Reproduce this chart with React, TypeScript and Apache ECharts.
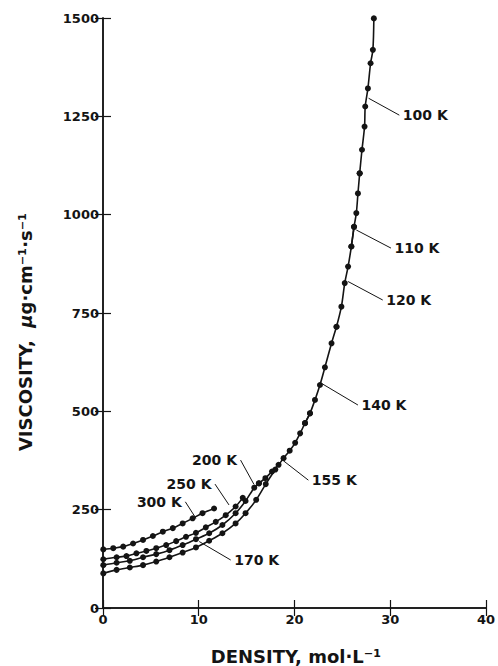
import React, { useEffect, useRef } from "react";
import * as echarts from "echarts";

// Axis ranges
const X_MIN = 0;
const X_MAX = 40;
const X_STEP = 10;
const Y_MIN = 0;
const Y_MAX = 1500;
const Y_STEP = 250;

// Isotherms (density mol/L, viscosity µg·cm⁻¹·s⁻¹)
const T300_D = [0.03, 1.07, 2.11, 3.14, 4.18, 5.21, 6.25, 7.29, 8.32, 9.36, 10.39, 11.6];
const T300_V = [149, 152, 156, 164, 173, 183, 194, 203, 215, 228, 241, 253];

const T250_D = [0.03, 1.42, 2.45, 3.49, 4.53, 5.56, 6.6, 7.64, 8.67, 9.71, 10.74, 11.78, 12.82, 13.85, 14.6];
const T250_V = [124, 129, 132, 139, 145, 152, 160, 170, 181, 191, 205, 219, 236, 258, 280];

const T200_D = [0.03, 1.42, 2.8, 4.18, 5.56, 6.94, 8.32, 9.71, 11.09, 12.47, 13.85, 14.89, 15.8, 16.3];
const T200_V = [109, 115, 120, 129, 137, 147, 160, 175, 190, 211, 241, 272, 306, 317];

const T170_D = [0.03, 1.42, 2.8, 4.18, 5.56, 6.94, 8.32, 9.71, 11.09, 12.47, 13.85, 14.89, 16.0, 17.0, 18.0];
const T170_V = [88, 97, 103, 109, 118, 129, 141, 154, 171, 190, 215, 241, 275, 315, 352];

const T155_D = [16.27, 16.96, 17.65, 18.34, 18.86, 19.5, 20.07, 20.59, 21.1, 21.62];
const T155_V = [317, 330, 347, 364, 381, 400, 420, 444, 470, 495];

const T140_D = [21.1, 21.62, 22.14, 22.66, 23.18, 23.87, 24.39];
const T140_V = [470, 495, 529, 567, 612, 673, 715];

const T120_D = [24.39, 24.9, 25.25, 25.6, 25.94, 26.22];
const T120_V = [715, 766, 826, 868, 919, 969];

const T110_D = [25.94, 26.22, 26.46, 26.63, 26.81];
const T110_V = [919, 969, 1004, 1054, 1105];

const T100_D = [26.81, 27.05, 27.32, 27.39, 27.67, 27.95, 28.19, 28.29];
const T100_V = [1105, 1165, 1224, 1275, 1321, 1385, 1419, 1499];

// Annotation leaders: point on the curve, point at the label
const LEADER_NAMES = ["100 K", "110 K", "120 K", "140 K", "155 K", "170 K", "200 K", "250 K", "300 K"];
const LEADER_CURVE_D = [27.74, 26.46, 25.6, 22.83, 18.86, 10.05, 15.75, 13.16, 9.71];
const LEADER_CURVE_V = [1296, 961, 830, 571, 374, 169, 315, 262, 228];
const LEADER_TEXT_D = [30.95, 30.08, 29.22, 26.63, 21.45, 13.34, 14.37, 11.7, 8.6];
const LEADER_TEXT_V = [1253, 915, 783, 516, 325, 122, 376, 315, 270];

const X_TITLE = "DENSITY, mol·L⁻¹";
const Y_TITLE_A = "VISCOSITY,  ";
const Y_TITLE_MU = "μ";
const Y_TITLE_B = "g·cm⁻¹·s⁻¹";

export default function App() {
  const ref = useRef<HTMLDivElement>(null);

  useEffect(() => {
    if (!ref.current) return;
    const chart = echarts.init(ref.current, null, { renderer: "svg" });
    const INK = "#141414";
    const FONT = "DejaVu Sans";

    const zip = (d: number[], v: number[]) => d.map((x, i) => [x, v[i]]);

    const curve = (name: string, d: number[], v: number[]) => ({
      name,
      type: "line",
      data: zip(d, v),
      xAxisIndex: 0,
      yAxisIndex: 0,
      symbol: "circle",
      symbolSize: 6,
      smooth: 0.3,
      lineStyle: { color: INK, width: 1.6 },
      itemStyle: { color: INK },
      silent: true,
      z: 3,
    });

    const leaders = LEADER_NAMES.map((name, i) => {
      const side = LEADER_TEXT_D[i] > LEADER_CURVE_D[i] ? "right" : "left";
      return {
        name: "leader " + name,
        type: "line",
        xAxisIndex: 0,
        yAxisIndex: 0,
        symbol: "circle",
        symbolSize: 1,
        itemStyle: { color: "rgba(0,0,0,0)" },
        lineStyle: { color: INK, width: 1 },
        silent: true,
        z: 2,
        data: [
          { value: [LEADER_CURVE_D[i], LEADER_CURVE_V[i]], label: { show: false } },
          {
            value: [LEADER_TEXT_D[i], LEADER_TEXT_V[i]],
            label: {
              show: true,
              position: side,
              distance: 3,
              formatter: name,
              color: INK,
              fontFamily: FONT,
              fontWeight: "bold",
              fontSize: 14,
            },
          },
        ],
      };
    });

    const axisLine = { show: true, lineStyle: { color: INK, width: 1.5 } };
    const axisTick = { show: true, inside: true, length: 8, lineStyle: { color: INK, width: 1.2 } };
    const tickLabel = {
      color: INK,
      fontFamily: FONT,
      fontWeight: "bold",
      fontSize: 13,
      formatter: (v: number) => String(v),
    };

    chart.setOption({
      animation: false,
      backgroundColor: "#ffffff",
      grid: { left: 103, right: 9, top: 18, bottom: 58, containLabel: false },
      xAxis: [
        {
          type: "value",
          min: X_MIN,
          max: X_MAX,
          interval: X_STEP,
          position: "bottom",
          axisLine,
          axisTick,
          splitLine: { show: false },
          axisLabel: { ...tickLabel, margin: 5 },
        },
        {
          type: "value",
          min: X_MIN,
          max: X_MAX,
          interval: X_STEP,
          position: "top",
          axisLine,
          axisTick,
          splitLine: { show: false },
          axisLabel: { show: false },
        },
      ],
      yAxis: [
        {
          type: "value",
          min: Y_MIN,
          max: Y_MAX,
          interval: Y_STEP,
          position: "left",
          axisLine,
          axisTick,
          splitLine: { show: false },
          axisLabel: { ...tickLabel, margin: 4 },
        },
        {
          type: "value",
          min: Y_MIN,
          max: Y_MAX,
          interval: Y_STEP,
          position: "right",
          axisLine,
          axisTick,
          splitLine: { show: false },
          axisLabel: { show: false },
        },
      ],
      graphic: [
        {
          type: "text",
          x: 296,
          y: 656,
          style: {
            text: X_TITLE,
            fill: INK,
            fontFamily: FONT,
            fontWeight: "bold",
            fontSize: 18,
            align: "center",
            verticalAlign: "middle",
          },
        },
        {
          type: "text",
          x: 25,
          y: 332,
          rotation: Math.PI / 2,
          style: {
            text: Y_TITLE_A + "{mu|" + Y_TITLE_MU + "}" + Y_TITLE_B,
            fill: INK,
            fontFamily: FONT,
            fontWeight: "bold",
            fontSize: 18,
            align: "center",
            verticalAlign: "middle",
            rich: {
              mu: {
                fontFamily: FONT,
                fontWeight: "bold",
                fontStyle: "italic",
                fontSize: 18,
                fill: INK,
              },
            },
          },
        },
      ],
      series: [
        curve("300 K", T300_D, T300_V),
        curve("250 K", T250_D, T250_V),
        curve("200 K", T200_D, T200_V),
        curve("170 K", T170_D, T170_V),
        curve("155 K", T155_D, T155_V),
        curve("140 K", T140_D, T140_V),
        curve("120 K", T120_D, T120_V),
        curve("110 K", T110_D, T110_V),
        curve("100 K", T100_D, T100_V),
        ...leaders,
      ],
    });

    return () => chart.dispose();
  }, []);

  return (
    <div
      ref={ref}
      style={{ position: "fixed", left: 0, top: 0, width: 498, height: 666, background: "#fff" }}
    />
  );
}
